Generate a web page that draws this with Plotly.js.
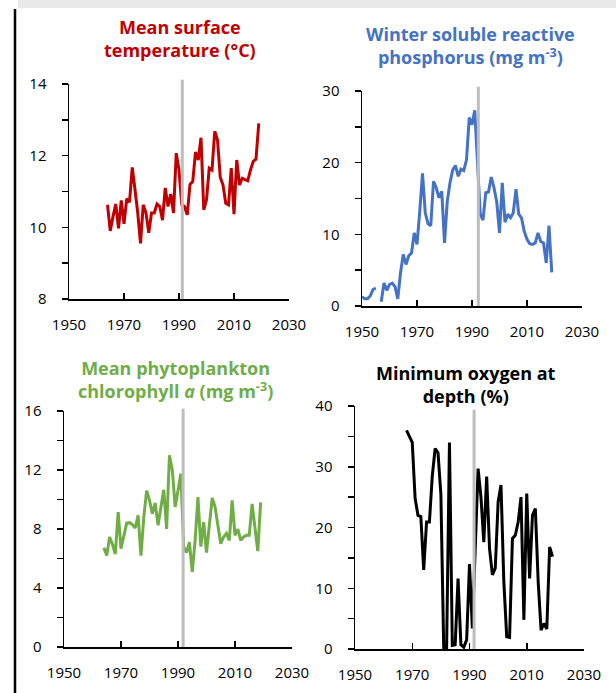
<!DOCTYPE html>
<html><head><meta charset="utf-8">
<script src="https://cdn.plot.ly/plotly-3.0.1.min.js"></script>
<style>html,body{margin:0;padding:0;background:#fff;} #chart{width:616px;height:693px;}</style>
</head><body><div id="chart"></div>
<script>
// ---------- data ----------
const yearTicks = [1950, 1970, 1990, 2010, 2030];

const tempYears = [1964,1965,1966,1967,1968,1969,1970,1971,1972,1973,1974,1975,1976,1977,1978,1979,1980,1981,1982,1983,1984,1985,1986,1987,1988,1989,1990,1991,1992,1993,1994,1995,1996,1997,1998,1999,2000,2001,2002,2003,2004,2005,2006,2007,2008,2009,2010,2011,2012,2013,2014,2015,2016,2017,2018,2019];
const tempValues = [10.63,9.9,10.3,10.65,9.97,10.75,10.1,10.8,10.7,11.67,11.05,10.4,9.55,10.63,10.4,9.85,10.4,10.4,10.65,10.58,10.2,11.1,10.58,10.93,10.4,12.07,11.6,10.63,10.58,10.35,11.2,11.28,12.1,11.88,12.5,10.49,10.77,11.65,11.6,12.68,12.44,11.4,11.18,10.67,10.63,11.65,10.37,11.88,11.18,11.37,11.33,11.3,11.6,11.84,11.9,12.9];
const tempTicks = [8, 10, 12, 14];

const phosYears = [1950,1951,1952,1953,1954,1955,1956,1957,1958,1959,1960,1961,1962,1963,1964,1965,1966,1967,1968,1969,1970,1971,1972,1973,1974,1975,1976,1977,1978,1979,1980,1981,1982,1983,1984,1985,1986,1987,1988,1989,1990,1991,1992,1993,1994,1995,1996,1997,1998,1999,2000,2001,2002,2003,2004,2005,2006,2007,2008,2009,2010,2011,2012,2013,2014,2015,2016,2017,2018,2019];
const phosValues = [1.3,1.0,1.0,1.4,2.3,2.5,null,0.6,3.2,2.2,3.0,3.2,2.7,1.0,4.6,7.2,5.8,7.0,7.4,10.2,8.6,13.2,18.5,13.0,11.5,11.2,17.4,16.5,15.1,16.0,8.8,14.6,17.2,19.0,19.6,18.1,19.1,18.9,20.4,26.3,25.3,27.3,20.0,12.8,12.0,15.8,15.9,18.0,16.5,14.5,10.2,17.2,11.7,12.8,12.3,13.0,16.3,12.8,12.3,10.4,9.3,8.7,8.6,8.8,10.2,9.0,8.8,6.0,11.2,4.7];
const phosTicks = [0, 10, 20, 30];

const chlYears = [1964,1965,1966,1967,1968,1969,1970,1971,1972,1973,1974,1975,1976,1977,1978,1979,1980,1981,1982,1983,1984,1985,1986,1987,1988,1989,1990,1991,1992,1993,1994,1995,1996,1997,1998,1999,2000,2001,2002,2003,2004,2005,2006,2007,2008,2009,2010,2011,2012,2013,2014,2015,2016,2017,2018,2019];
const chlValues = [6.73,6.2,7.46,6.96,6.3,9.15,6.67,7.46,8.4,8.43,8.3,8.07,8.93,6.2,8.8,10.6,9.94,9.04,9.76,8.25,9.6,10.66,8.0,13.0,12.0,9.5,10.6,11.75,6.8,6.4,7.1,5.1,7.2,10.17,6.8,8.47,6.4,8.4,10.1,9.5,8.36,7.0,7.46,7.7,7.23,9.94,7.57,8.0,7.23,7.46,7.57,7.57,9.7,8.0,6.5,9.8];
const chlTicks = [0, 4, 8, 12, 16];

const oxyYears = [1968,1969,1970,1971,1972,1973,1974,1975,1976,1977,1978,1979,1980,1981,1982,1983,1984,1985,1986,1987,1988,1989,1990,1991,1992,1993,1994,1995,1996,1997,1998,1999,2000,2001,2002,2003,2004,2005,2006,2007,2008,2009,2010,2011,2012,2013,2014,2015,2016,2017,2018,2019];
const oxyValues = [36.0,35.0,34.0,24.8,22.0,21.8,13.0,20.9,20.9,28.5,33.0,32.3,25.5,0,0,34.0,0.6,0.7,11.6,0.7,0.3,1.5,14.0,3.4,17.0,29.7,25.0,17.6,28.4,16.5,12.2,13.3,24.2,27.0,11.0,2.0,1.9,18.2,18.7,20.9,25.0,4.8,25.6,11.6,22.0,23.1,11.0,3.1,4.2,3.3,16.8,15.2];
const oxyTicks = [0, 10, 20, 30, 40];

const breakYears = [1991.2, 1992.3, 1991.8, 1991.6];

const titles = [
  'Mean surface<br>temperature (°C)',
  'Winter soluble reactive<br>phosphorus (mg m<sup>-3</sup>)',
  'Mean phytoplankton<br>chlorophyll <i>a</i> (mg m<sup>-3</sup>)',
  'Minimum oxygen at<br>depth (%)'
];

// ---------- layout helpers ----------
const W = 616, H = 693;
const fx = p => p / W;
const fy = p => 1 - p / H;
const FONT = 'Open Sans, Lato, sans-serif';

const panels = [
  {x: [tempYears, tempValues], color: '#C00000', xd: [69, 289], yd: [299, 84], range: [8, 14], ticks: tempTicks, minor: 1, top: 1.02, title: [180, 39]},
  {x: [phosYears, phosValues], color: '#4472C4', xd: [362, 582], yd: [306, 91], range: [0, 30], ticks: phosTicks, minor: 5, top: 1.02, title: [470, 45.5]},
  {x: [chlYears, chlValues], color: '#70AD47', xd: [64, 292], yd: [647, 411], range: [0, 16], ticks: chlTicks, minor: 2, top: 1.01, title: [175, 379.5]},
  {x: [oxyYears, oxyValues], color: '#000000', xd: [355, 584], yd: [649, 406], range: [0, 40], ticks: oxyTicks, minor: 5, top: 0.985, title: [466, 384.5]}
];

const data = [];
const layout = {
  width: W, height: H,
  margin: {l: 0, r: 0, t: 0, b: 0},
  paper_bgcolor: '#fff', plot_bgcolor: 'rgba(0,0,0,0)',
  showlegend: false,
  shapes: [
    {type: 'rect', xref: 'paper', yref: 'paper', x0: fx(18), x1: 1, y0: fy(8), y1: 1, fillcolor: '#E9E9E9', line: {width: 0}, layer: 'below'},
    {type: 'line', xref: 'paper', yref: 'paper', x0: fx(15), x1: fx(15), y0: fy(9), y1: 0, line: {color: '#000', width: 2.5}}
  ],
  annotations: []
};

panels.forEach((p, i) => {
  const n = i + 1;
  const xa = 'xaxis' + (n === 1 ? '' : n), ya = 'yaxis' + (n === 1 ? '' : n);
  const xr = 'x' + (n === 1 ? '' : n), yr = 'y' + (n === 1 ? '' : n);
  data.push({
    x: p.x[0], y: p.x[1], type: 'scatter', mode: 'lines',
    line: {color: p.color, width: 3}, xaxis: xr, yaxis: yr,
    connectgaps: false, hoverinfo: 'skip'
  });
  layout[xa] = {
    domain: [fx(p.xd[0]), fx(p.xd[1])], anchor: yr,
    range: [1950, 2030], tickmode: 'array', tickvals: yearTicks,
    ticks: 'inside', ticklen: 6, tickwidth: 1.5, tickcolor: '#000',
    showline: true, linecolor: '#000', linewidth: 1.5,
    showgrid: false, zeroline: false, fixedrange: true,
    ticklabelstandoff: 11,
    tickfont: {family: FONT, size: 15, color: '#000'}
  };
  layout[ya] = {
    domain: [fy(p.yd[0]), fy(p.yd[1])], anchor: xr,
    range: p.range, tickmode: 'array', tickvals: p.ticks,
    ticks: 'outside', ticklen: 6, tickwidth: 1.5, tickcolor: '#000',
    minor: {tickmode: 'linear', tick0: p.range[0], dtick: p.minor, ticks: 'outside', ticklen: 6, tickwidth: 1.5, tickcolor: '#000'},
    showline: true, linecolor: '#000', linewidth: 1.5,
    showgrid: false, zeroline: false, fixedrange: true,
    ticklabelstandoff: 12,
    tickfont: {family: FONT, size: 15, color: '#000'}
  };
  layout.shapes.push({
    type: 'line', xref: xr, yref: yr + ' domain',
    x0: breakYears[i], x1: breakYears[i], y0: 0, y1: p.top,
    line: {color: '#BDBDBD', width: 3}, layer: 'above'
  });
  layout.annotations.push({
    xref: 'paper', yref: 'paper', x: fx(p.title[0]), y: fy(p.title[1]),
    xanchor: 'center', yanchor: 'middle', showarrow: false, align: 'center',
    text: '<b>' + titles[i] + '</b>',
    font: {family: FONT, size: 18, color: p.color}
  });
});

Plotly.newPlot('chart', data, layout, {staticPlot: true, displayModeBar: false});
</script>
</body></html>
